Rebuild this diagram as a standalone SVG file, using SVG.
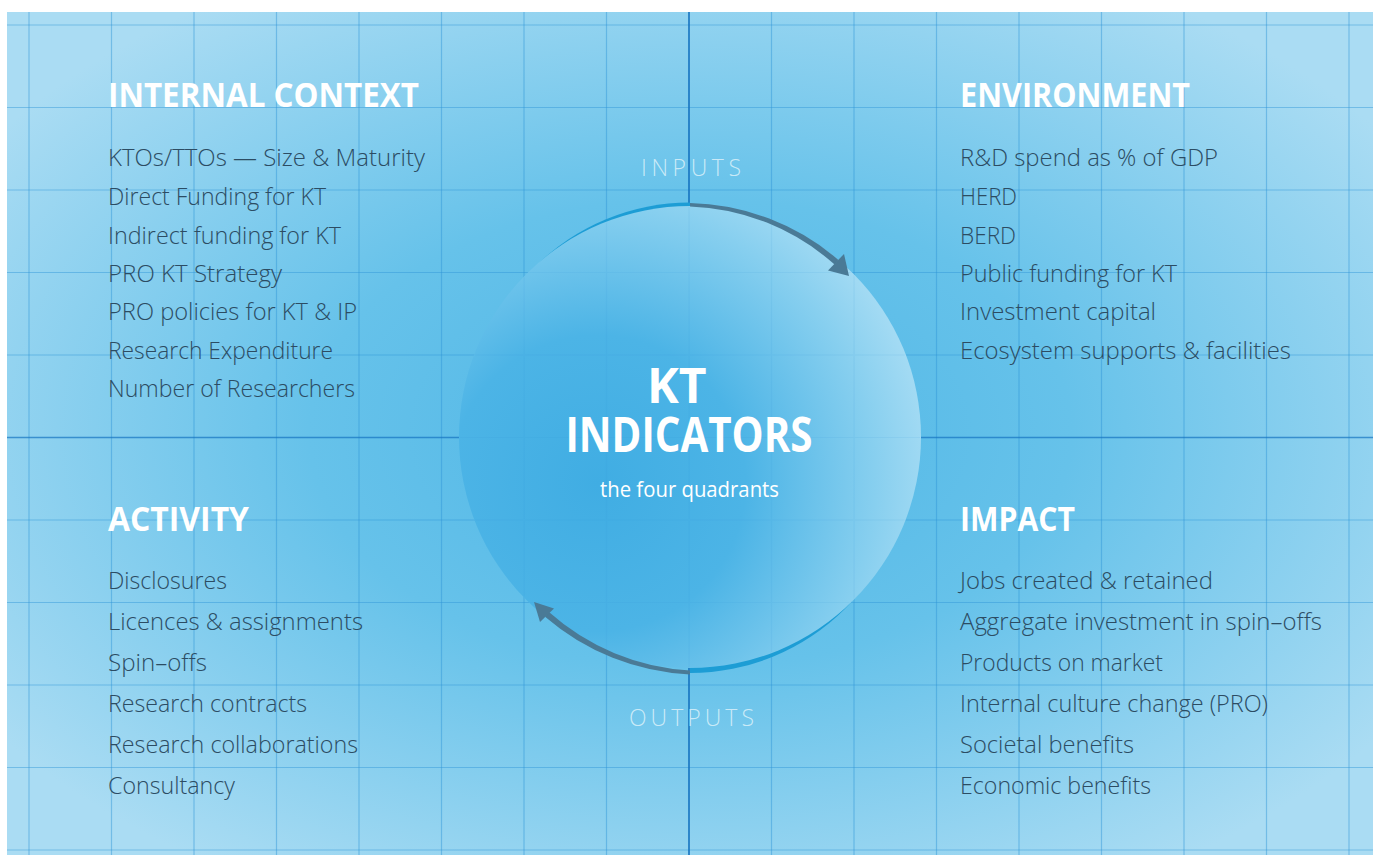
<svg xmlns="http://www.w3.org/2000/svg" width="1376" height="855" viewBox="0 0 1376 855">
  <defs>
    <radialGradient id="bgGrad" cx="0.5" cy="0.5" r="0.62" gradientUnits="objectBoundingBox">
      <stop offset="0" stop-color="#4fb6e6"/>
      <stop offset="0.45" stop-color="#66c2ea"/>
      <stop offset="1" stop-color="#aadcf3"/>
    </radialGradient>
    <radialGradient id="discGrad" cx="0.3" cy="0.6" r="0.8" gradientUnits="objectBoundingBox">
      <stop offset="0" stop-color="#40ade3"/>
      <stop offset="0.4" stop-color="#4cb4e6"/>
      <stop offset="0.75" stop-color="#87cfef"/>
      <stop offset="1" stop-color="#b5e2f6"/>
    </radialGradient>
    <clipPath id="clipTL"><rect x="440" y="180" width="250" height="257"/></clipPath>
    <clipPath id="clipBR"><rect x="690" y="437" width="260" height="260"/></clipPath>
    <clipPath id="clipDisc"><circle cx="690" cy="437" r="230"/></clipPath>
    <style>
      .grid { stroke: #2f95d6; stroke-opacity: 0.45; stroke-width: 1.2; fill: none; }
      .axis { stroke: #1673c0; stroke-width: 1.6; fill: none; }
      .ghost { stroke: #2f95d6; stroke-opacity: 0.1; stroke-width: 1.2; fill: none; }
      .head { font-family: "Open Sans", "Liberation Sans", sans-serif; font-weight: 700; font-size: 34px; fill: #ffffff; }
      .item { font-family: "Open Sans", "Liberation Sans", sans-serif; font-weight: 300; font-size: 24.5px; fill: #2c4c63; }
      .flow { font-family: "Open Sans", "Liberation Sans", sans-serif; font-weight: 300; font-size: 23px; fill: #d6eff9; fill-opacity: 0.9; }
      .title { font-family: "Open Sans", "Liberation Sans", sans-serif; font-weight: 700; font-size: 48px; fill: #ffffff; text-anchor: middle; }
      .sub { font-family: "Open Sans", "Liberation Sans", sans-serif; font-weight: 400; font-size: 21px; fill: #ffffff; text-anchor: middle; }
      .arrow { fill: #4a7a96; }
      .rim { fill: #1d9dd5; }
    </style>
  </defs>

  <!-- background panel and grid -->
  <rect x="7" y="12" width="1366" height="843" fill="url(#bgGrad)"/>
  <path class="grid" d="M29 12V855M111.5 12V855M194 12V855M276.5 12V855M359 12V855M441.5 12V855M524 12V855M606.5 12V855M771.5 12V855M854 12V855M936.5 12V855M1019 12V855M1101.5 12V855M1184 12V855M1266.5 12V855M1349 12V855"/>
  <path class="grid" d="M7 25H1373M7 107.5H1373M7 190H1373M7 272.5H1373M7 355H1373M7 520H1373M7 602.5H1373M7 685H1373M7 767.5H1373M7 850H1373"/>
  <path class="axis" d="M689 12V855"/>
  <path class="axis" d="M7 437.5H1373" stroke-opacity="0.7"/>

  <!-- central disc with tapered rim crescents -->
  <g id="kt-indicators">
    <circle class="rim" cx="690" cy="421.8" r="219.3" clip-path="url(#clipTL)"/>
    <circle class="rim" cx="690" cy="453.7" r="219.3" clip-path="url(#clipBR)"/>
    <circle cx="690" cy="437" r="231" fill="url(#discGrad)"/>
    <g clip-path="url(#clipDisc)">
      <path class="ghost" d="M524 200V680M606.5 200V680M689 200V680M771.5 200V680M854 200V680M450 272.5H930M450 355H930M450 437.5H930M450 520H930M450 602.5H930"/>
    </g>
    <text class="title">
      <tspan x="683" y="403">KT</tspan>
      <tspan x="689" y="452" textLength="247" lengthAdjust="spacingAndGlyphs">INDICATORS</tspan>
    </text>
    <text class="sub" x="689.5" y="497" textLength="179" lengthAdjust="spacingAndGlyphs">the four quadrants</text>
  </g>

  <!-- flow connectors around the disc -->
  <g id="connectors">
    <path class="arrow" d="M690 203 A236 236 0 0 1 838.5 260 L834.6 264.6 A229 229 0 0 0 690 206.5 Z"/>
    <polygon class="arrow" points="849,276 828,270.5 844,254"/>
    <path class="arrow" d="M690 674.5 A238 238 0 0 1 545.1 616.8 L548.9 612.1 A232 232 0 0 0 690 670.5 Z"/>
    <polygon class="arrow" points="534,602 554,608.5 540,622"/>
  </g>

  <g id="inputs">
    <text class="flow" x="641" y="176" textLength="100" lengthAdjust="spacing">INPUTS</text>
  </g>
  <g id="outputs">
    <text class="flow" x="629" y="726" textLength="125" lengthAdjust="spacing">OUTPUTS</text>
  </g>

  <!-- quadrant: internal context -->
  <g id="internal-context">
    <text class="head" x="108" y="107" textLength="311" lengthAdjust="spacingAndGlyphs">INTERNAL CONTEXT</text>
    <text class="item" x="108" y="165.5" textLength="317" lengthAdjust="spacingAndGlyphs">KTOs/TTOs — Size &amp; Maturity</text>
    <text class="item" x="108" y="204.5" textLength="218" lengthAdjust="spacingAndGlyphs">Direct Funding for KT</text>
    <text class="item" x="108" y="243.5" textLength="233" lengthAdjust="spacingAndGlyphs">Indirect funding for KT</text>
    <text class="item" x="108" y="282" textLength="174" lengthAdjust="spacingAndGlyphs">PRO KT Strategy</text>
    <text class="item" x="108" y="320" textLength="249" lengthAdjust="spacingAndGlyphs">PRO policies for KT &amp; IP</text>
    <text class="item" x="108" y="358.5" textLength="225" lengthAdjust="spacingAndGlyphs">Research Expenditure</text>
    <text class="item" x="108" y="397" textLength="247" lengthAdjust="spacingAndGlyphs">Number of Researchers</text>
  </g>

  <!-- quadrant: environment -->
  <g id="environment">
    <text class="head" x="960" y="107" textLength="230" lengthAdjust="spacingAndGlyphs">ENVIRONMENT</text>
    <text class="item" x="960" y="165.5" textLength="258" lengthAdjust="spacingAndGlyphs">R&amp;D spend as % of GDP</text>
    <text class="item" x="960" y="204.5" textLength="57" lengthAdjust="spacingAndGlyphs">HERD</text>
    <text class="item" x="960" y="243.5" textLength="56" lengthAdjust="spacingAndGlyphs">BERD</text>
    <text class="item" x="960" y="282" textLength="217" lengthAdjust="spacingAndGlyphs">Public funding for KT</text>
    <text class="item" x="960" y="320" textLength="196" lengthAdjust="spacingAndGlyphs">Investment capital</text>
    <text class="item" x="960" y="358.5" textLength="331" lengthAdjust="spacingAndGlyphs">Ecosystem supports &amp; facilities</text>
  </g>

  <!-- quadrant: activity -->
  <g id="activity">
    <text class="head" x="108" y="531" textLength="141" lengthAdjust="spacingAndGlyphs">ACTIVITY</text>
    <text class="item" x="108" y="589" textLength="119" lengthAdjust="spacingAndGlyphs">Disclosures</text>
    <text class="item" x="108" y="630" textLength="255" lengthAdjust="spacingAndGlyphs">Licences &amp; assignments</text>
    <text class="item" x="108" y="671" textLength="99" lengthAdjust="spacingAndGlyphs">Spin–offs</text>
    <text class="item" x="108" y="712" textLength="199" lengthAdjust="spacingAndGlyphs">Research contracts</text>
    <text class="item" x="108" y="753" textLength="250" lengthAdjust="spacingAndGlyphs">Research collaborations</text>
    <text class="item" x="108" y="794" textLength="127" lengthAdjust="spacingAndGlyphs">Consultancy</text>
  </g>

  <!-- quadrant: impact -->
  <g id="impact">
    <text class="head" x="960" y="531" textLength="115" lengthAdjust="spacingAndGlyphs">IMPACT</text>
    <text class="item" x="960" y="589" textLength="253" lengthAdjust="spacingAndGlyphs">Jobs created &amp; retained</text>
    <text class="item" x="960" y="630" textLength="362" lengthAdjust="spacingAndGlyphs">Aggregate investment in spin–offs</text>
    <text class="item" x="960" y="671" textLength="203" lengthAdjust="spacingAndGlyphs">Products on market</text>
    <text class="item" x="960" y="712" textLength="308" lengthAdjust="spacingAndGlyphs">Internal culture change (PRO)</text>
    <text class="item" x="960" y="753" textLength="174" lengthAdjust="spacingAndGlyphs">Societal benefits</text>
    <text class="item" x="960" y="794" textLength="191" lengthAdjust="spacingAndGlyphs">Economic benefits</text>
  </g>
</svg>
